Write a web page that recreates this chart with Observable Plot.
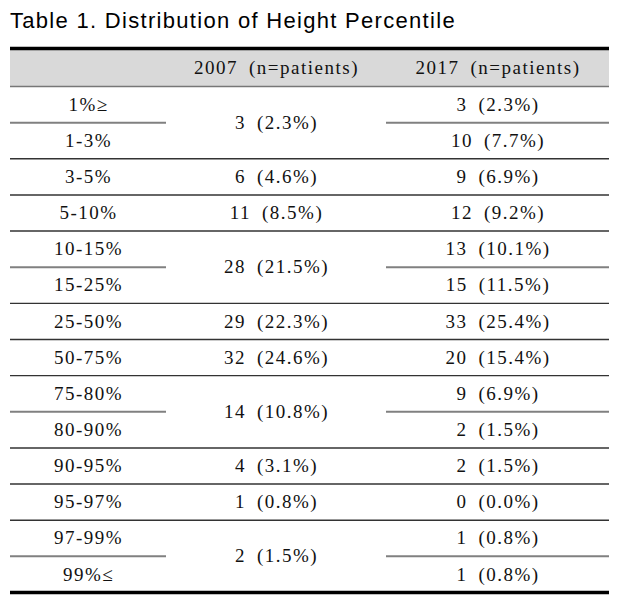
<!DOCTYPE html>
<html>
<head>
<meta charset="utf-8">
<script src="https://cdn.jsdelivr.net/npm/d3@7"></script>
<script src="https://cdn.jsdelivr.net/npm/@observablehq/plot@0.6"></script>
<style>
  html, body { margin: 0; padding: 0; background: #fff; }
  #title { font-family: "Liberation Sans", Arial, sans-serif; font-size: 22px; letter-spacing: 1.3px; color: #000;
           height: 40px; line-height: 36px; padding: 3px 0 0 10px; box-sizing: border-box; white-space: nowrap; }
  #chart svg text { letter-spacing: 1.5px; }
</style>
</head>
<body>
<div id="title">Table 1. Distribution of Height Percentile</div>
<div id="chart"></div>
<script>
const headers = ["", "2007\u2002(n=patients)", "2017\u2002(n=patients)"];
const rowLabels = ["1%≥", "1-3%", "3-5%", "5-10%", "10-15%", "15-25%", "25-50%", "50-75%",
                   "75-80%", "80-90%", "90-95%", "95-97%", "97-99%", "99%≤"];
// 2007 cells are merged over several rows
const span2007 = [2, 1, 1, 2, 1, 1, 2, 1, 1, 2];
const n2007    = [3, 6, 11, 28, 29, 32, 14, 4, 1, 2];
const pct2007  = [2.3, 4.6, 8.5, 21.5, 22.3, 24.6, 10.8, 3.1, 0.8, 1.5];
const n2017    = [3, 10, 9, 12, 13, 15, 33, 20, 9, 2, 2, 0, 1, 1];
const pct2017  = [2.3, 7.7, 6.9, 9.2, 10.1, 11.5, 25.4, 15.4, 6.9, 1.5, 1.5, 0.0, 0.8, 0.8];

const fmt = (n, p) => `${n}\u2002(${p.toFixed(1)}%)`;

// build table geometry in row/column units (column index, row index)
const nRows = rowLabels.length;
const cells2007 = [];
let start = 0;
span2007.forEach((s, i) => {
  cells2007.push({ col: 1.5, row: 1 + start + s / 2, text: fmt(n2007[i], pct2007[i]), start, span: s });
  start += s;
});
const groupStarts = new Set(cells2007.map(d => d.start));
const labelCells = rowLabels.map((t, i) => ({ col: 0.5, row: 1.5 + i, text: t }));
const cells2017 = n2017.map((n, i) => ({ col: 2.5, row: 1.5 + i, text: fmt(n, pct2017[i]) }));
const headerCells = headers.map((t, i) => ({ col: i + 0.5, row: 0.5, text: t }));

const fullLines = [], partialLines = [];
for (let r = 1; r < nRows; r++) {
  if (groupStarts.has(r)) fullLines.push({ x1: 0, x2: 3, y: 1 + r });
  else {
    partialLines.push({ x1: 0, x2: 1, y: 1 + r });
    partialLines.push({ x1: 2, x2: 3, y: 1 + r });
  }
}

const textOpts = { x: "col", y: "row", text: "text", fill: "#111",
  fontFamily: "Liberation Serif", fontSize: 19 };
const chart = Plot.plot({
  width: 629,
  height: 556,
  margin: 0,
  x: { type: "linear", domain: [0, 1, 2, 3], range: [10, 166, 386, 609], axis: null },
  y: { type: "linear", domain: [0, 1, 1 + nRows], range: [8, 46, 552], axis: null },
  marks: [
    Plot.rect([{ x1: 0, x2: 3, y1: 0, y2: 1 }], { x1: "x1", x2: "x2", y1: "y1", y2: "y2", fill: "#d9d9d9" }),
    Plot.ruleY([1], { x1: 0, x2: 3, stroke: "#777", strokeWidth: 1.5 }),
    Plot.ruleY(fullLines, { y: "y", x1: "x1", x2: "x2", stroke: "#333", strokeWidth: 1.4 }),
    Plot.ruleY(partialLines, { y: "y", x1: "x1", x2: "x2", stroke: "#808080", strokeWidth: 2 }),
    Plot.ruleY([0, 1 + nRows], { x1: 0, x2: 3, stroke: "#000", strokeWidth: 3.5 }),
    Plot.text(headerCells, textOpts),
    Plot.text(labelCells, textOpts),
    Plot.text(cells2007, textOpts),
    Plot.text(cells2017, textOpts)
  ]
});
document.getElementById("chart").appendChild(chart);
</script>
</body>
</html>
